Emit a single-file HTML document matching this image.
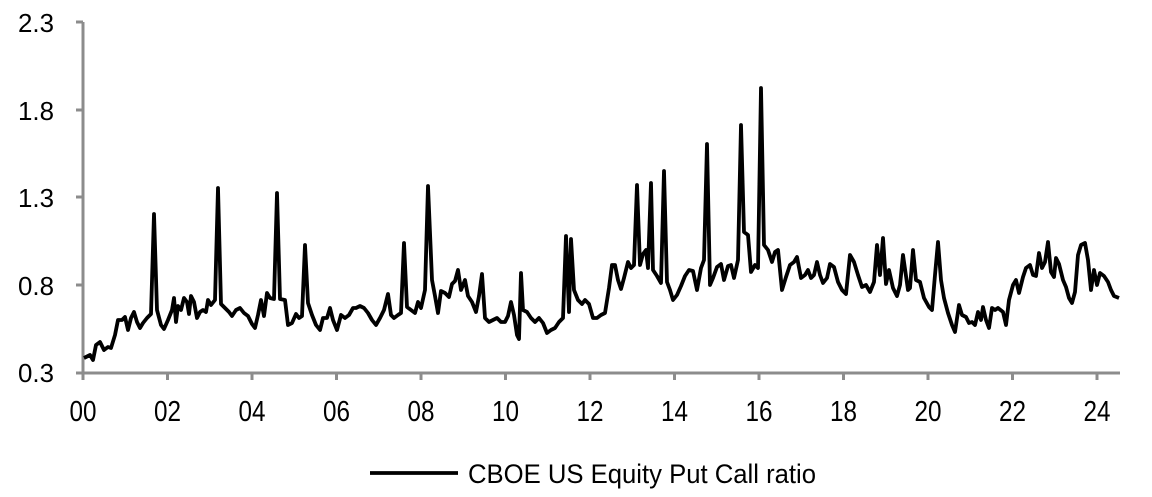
<!DOCTYPE html>
<html><head><meta charset="utf-8"><style>
html,body{margin:0;padding:0;background:#fff;}
svg{display:block;}
text{font-family:"Liberation Sans",sans-serif;fill:#000;}
</style></head><body>
<svg width="1152" height="497" viewBox="0 0 1152 497">
<g stroke="#8c8c8c" stroke-width="3" fill="none">
<line x1="83" y1="22" x2="83" y2="373"/>
<line x1="76" y1="22" x2="83" y2="22"/>
<line x1="76" y1="110" x2="83" y2="110"/>
<line x1="76" y1="197" x2="83" y2="197"/>
<line x1="76" y1="285" x2="83" y2="285"/>
<line x1="76" y1="373" x2="1120" y2="373"/>
<line x1="83" y1="373" x2="83" y2="380"/>
<line x1="167.5" y1="373" x2="167.5" y2="380"/>
<line x1="252" y1="373" x2="252" y2="380"/>
<line x1="336.5" y1="373" x2="336.5" y2="380"/>
<line x1="421" y1="373" x2="421" y2="380"/>
<line x1="505.5" y1="373" x2="505.5" y2="380"/>
<line x1="590" y1="373" x2="590" y2="380"/>
<line x1="674.5" y1="373" x2="674.5" y2="380"/>
<line x1="759" y1="373" x2="759" y2="380"/>
<line x1="843.5" y1="373" x2="843.5" y2="380"/>
<line x1="928" y1="373" x2="928" y2="380"/>
<line x1="1012.5" y1="373" x2="1012.5" y2="380"/>
<line x1="1097" y1="373" x2="1097" y2="380"/>
</g>
<g font-size="26">
<text x="18" y="32" textLength="36" lengthAdjust="spacingAndGlyphs">2.3</text>
<text x="18" y="120" textLength="36" lengthAdjust="spacingAndGlyphs">1.8</text>
<text x="18" y="207" textLength="36" lengthAdjust="spacingAndGlyphs">1.3</text>
<text x="18" y="295" textLength="36" lengthAdjust="spacingAndGlyphs">0.8</text>
<text x="18" y="382" textLength="36" lengthAdjust="spacingAndGlyphs">0.3</text>
</g>
<g font-size="29">
<text x="69.5" y="421" textLength="27" lengthAdjust="spacingAndGlyphs">00</text>
<text x="154" y="421" textLength="27" lengthAdjust="spacingAndGlyphs">02</text>
<text x="238.5" y="421" textLength="27" lengthAdjust="spacingAndGlyphs">04</text>
<text x="323" y="421" textLength="27" lengthAdjust="spacingAndGlyphs">06</text>
<text x="407.5" y="421" textLength="27" lengthAdjust="spacingAndGlyphs">08</text>
<text x="492" y="421" textLength="27" lengthAdjust="spacingAndGlyphs">10</text>
<text x="576.5" y="421" textLength="27" lengthAdjust="spacingAndGlyphs">12</text>
<text x="661" y="421" textLength="27" lengthAdjust="spacingAndGlyphs">14</text>
<text x="745.5" y="421" textLength="27" lengthAdjust="spacingAndGlyphs">16</text>
<text x="830" y="421" textLength="27" lengthAdjust="spacingAndGlyphs">18</text>
<text x="914.5" y="421" textLength="27" lengthAdjust="spacingAndGlyphs">20</text>
<text x="999" y="421" textLength="27" lengthAdjust="spacingAndGlyphs">22</text>
<text x="1083.5" y="421" textLength="27" lengthAdjust="spacingAndGlyphs">24</text>
</g>
<polyline fill="none" stroke="#000" stroke-width="3.8" stroke-linejoin="round" points="
84,358 90,355 93,360 96,345 100,342 104,350 108,347 111,348 115,335 118,320 122,320 125,317 128,330 131,318 134,312 137,322 140,328 143,323 147,318 151,314 154,214 157,310 161,325 164,329 168,320 172,310 174,298 176,322 178,306 181,310 184,298 187,302 189,314 191,296 194,302 197,318 200,312 203,310 206,312 208,300 211,305 215,300 218,188 221,304 225,308 229,312 232,316 236,310 240,308 244,313 248,316 252,324 255,328 258,315 261,300 264,316 267,293 270,298 274,299 277,193 280,299 285,300 288,325 292,323 296,314 299,318 302,316 305,245 308,303 312,315 316,325 320,330 323,318 327,318 330,308 333,320 337,330 341,315 345,318 349,315 353,308 356,308 360,306 364,308 368,313 372,320 376,325 380,318 384,310 388,294 391,315 394,318 398,315 401,313 404,243 407,307 411,310 415,313 418,302 421,308 425,290 428,186 432,280 435,296 438,313 441,291 445,293 449,297 452,284 455,281 458,270 461,290 465,280 468,296 472,302 476,312 479,296 482,274 485,318 489,322 493,320 497,318 501,322 505,322 508,316 511,302 514,315 517,335 519,339 521,273 523,310 527,312 531,318 535,322 539,318 543,323 547,333 551,330 555,328 559,322 563,318 566,236 569,312 571,239 574,290 578,300 582,304 585,300 589,304 593,318 597,318 601,315 605,313 609,288 612,265 615,265 618,280 621,289 624,278 628,262 631,268 634,265 637,185 640,265 643,254 646,250 648,268 651,183 653,270 657,276 661,283 664,171 667,282 670,290 673,300 677,295 681,286 685,276 689,270 693,271 697,290 701,268 704,260 707,144 710,285 713,278 717,267 721,264 724,280 728,266 731,265 734,278 738,260 741,125 744,232 748,235 751,272 755,265 758,268 761,88 764,245 768,250 772,262 775,252 778,250 782,290 786,277 790,265 794,262 797,257 801,278 805,275 808,270 811,278 814,275 817,262 820,275 823,283 827,278 830,264 834,267 838,282 842,290 846,294 850,255 854,262 858,275 862,287 866,285 870,292 874,282 877,245 880,275 883,238 886,284 889,270 893,288 897,296 900,285 903,255 908,290 910,288 913,250 916,280 920,282 924,298 929,307 932,310 935,275 938,242 941,280 944,298 948,313 952,325 955,332 959,305 962,315 966,317 969,323 972,322 975,325 978,312 981,320 983,307 986,320 989,328 992,308 995,310 998,308 1003,312 1006,325 1009,300 1013,285 1016,280 1019,293 1023,277 1026,268 1030,265 1033,275 1036,276 1039,253 1042,268 1045,262 1048,242 1051,272 1054,277 1056,258 1059,264 1063,280 1066,287 1069,298 1072,303 1075,292 1078,255 1081,245 1085,243 1088,260 1091,290 1094,270 1097,285 1100,273 1104,276 1108,282 1111,290 1114,296 1119,298"/>
<line x1="370" y1="473" x2="458" y2="473" stroke="#000" stroke-width="3.8"/>
<text x="468" y="483" font-size="27" textLength="348" lengthAdjust="spacingAndGlyphs">CBOE US Equity Put Call ratio</text>
</svg>
</body></html>
